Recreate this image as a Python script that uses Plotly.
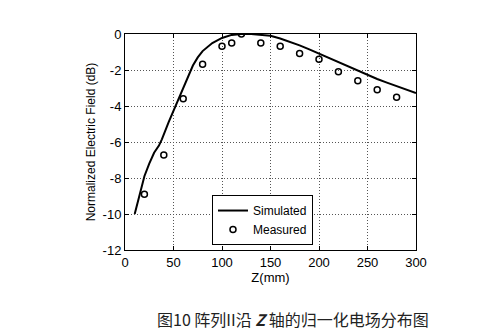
import plotly.graph_objects as go

sim_z = [10, 15, 20, 25, 30, 35, 38, 45, 50, 55, 60, 65, 70, 75, 80, 90, 100, 110, 120, 130,
         140, 150, 160, 170, 180, 190, 200, 210, 220, 230, 240, 250, 260, 270, 280, 290, 300]
sim_db = [-10, -8.9, -7.9, -7.2, -6.6, -6.2, -5.85, -4.9, -4.25, -3.6, -3.0, -2.3, -1.75, -1.3,
          -0.95, -0.5, -0.22, -0.05, 0, 0, -0.03, -0.1, -0.25, -0.42, -0.63, -0.85, -1.09,
          -1.32, -1.55, -1.8, -2.03, -2.27, -2.5, -2.7, -2.88, -3.08, -3.28]

meas_z = [20, 40, 60, 80, 100, 110, 120, 140, 160, 180, 200, 220, 240, 260, 280]
meas_db = [-8.9, -6.72, -3.6, -1.68, -0.68, -0.5, 0, -0.5, -0.68, -1.09, -1.4, -2.1, -2.6, -3.1, -3.52]

x_ticks = [0, 50, 100, 150, 200, 250, 300]
y_ticks = [-12, -10, -8, -6, -4, -2, 0]
y_tick_text = ["-12", "-10", "-8", "-6", "-4", "-2", "0"]

fig = go.Figure()
fig.add_trace(go.Scatter(x=sim_z, y=sim_db, mode="lines", name="Simulated",
                         line=dict(color="black", width=2)))
fig.add_trace(go.Scatter(x=meas_z, y=meas_db, mode="markers", name="Measured",
                         marker=dict(symbol="circle-open", size=6, color="black",
                                     line=dict(width=1.5, color="black"))))

font = dict(family="Liberation Sans, Arial", size=13, color="black")
fig.update_layout(
    width=487, height=331,
    margin=dict(l=125, r=71, t=34, b=81),
    paper_bgcolor="white", plot_bgcolor="white",
    font=font,
    showlegend=True,
    legend=dict(x=0.646, y=0.023, xanchor="right", yanchor="bottom",
                bgcolor="white", bordercolor="black", borderwidth=1,
                font=dict(family="Liberation Sans, Arial", size=12, color="black"),
                itemwidth=30, tracegroupgap=0),
    xaxis=dict(range=[0, 300], tickvals=x_ticks, showgrid=True, gridcolor="#555",
               griddash="1px,2px", gridwidth=1, showline=True, linecolor="black", mirror="ticks",
               ticks="inside", ticklen=4, tickcolor="black", zeroline=False,
               title=dict(text="Z(mm)", standoff=2, font=font)),
    yaxis=dict(range=[-12, 0], tickvals=y_ticks, ticktext=y_tick_text, showgrid=True,
               gridcolor="#555", griddash="1px,2px", gridwidth=1, showline=True,
               linecolor="black", mirror="ticks", ticks="inside", ticklen=4,
               tickcolor="black", zeroline=False,
               title=dict(text="Normalized Electric Field (dB)", standoff=4,
                          font=dict(family="Liberation Sans, Arial", size=12, color="black"))),
)
fig.add_annotation(text="图10 阵列II沿 <b><i>Z</i></b> 轴的归一化电场分布图",
                   xref="paper", yref="paper", x=0.579, y=-0.319, xanchor="center",
                   yanchor="middle", showarrow=False,
                   font=dict(family="Noto Sans CJK SC", size=16, color="#222"))
fig.write_html("out.html")
